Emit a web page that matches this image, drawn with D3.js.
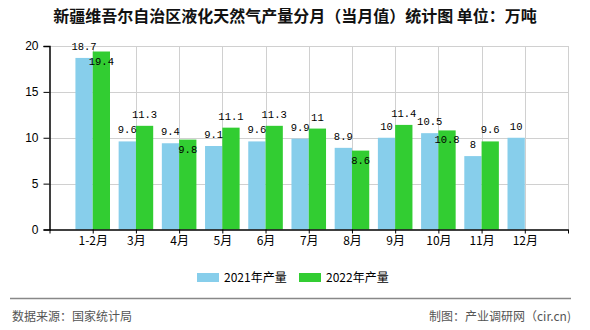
<!DOCTYPE html>
<html>
<head>
<meta charset="utf-8">
<script src="https://cdn.jsdelivr.net/npm/d3@7"></script>
<style>
  html, body { margin: 0; padding: 0; background: #fff; }
  svg { display: block; }
</style>
</head>
<body>
<svg id="chart" width="590" height="330"></svg>
<script>
// Monthly LNG output, Xinjiang (10k tonnes)
const months = ["1-2月", "3月", "4月", "5月", "6月", "7月", "8月", "9月", "10月", "11月", "12月"];
const output2021 = [18.7, 9.6, 9.4, 9.1, 9.6, 9.9, 8.9, 10, 10.5, 8, 10];
const output2022 = [19.4, 11.3, 9.8, 11.1, 11.3, 11, 8.6, 11.4, 10.8, 9.6, null];
const yTicks = [0, 5, 10, 15, 20];
const seriesNames = ["2021年产量", "2022年产量"];
const seriesColors = ["#87CEEB", "#32CD32"];

const svg = d3.select("#chart");
const cjk = "'Noto Sans CJK SC', 'Liberation Sans', sans-serif";
const mono = "'Liberation Mono', 'DejaVu Sans Mono', monospace";

const plotL = 49.5, plotR = 568, plotT = 46, plotB = 229.5;

// month i sits at slot i+1; slot 0 is the y axis, slot 12 the right edge
const x = d3.scaleLinear().domain([0, months.length + 1]).range([plotL, plotR]);
const y = d3.scaleLinear().domain([0, 20]).range([plotB, plotT]);
const step = x(1) - x(0);
const barW = step * 0.4;

// title
svg.append("text")
  .attr("x", 295).attr("y", 22)
  .attr("text-anchor", "middle")
  .attr("font-family", cjk).attr("font-size", 16).attr("font-weight", "bold")
  .attr("fill", "#111")
  .text("新疆维吾尔自治区液化天然气产量分月（当月值）统计图  单位：万吨");

// grid
const grid = svg.append("g").attr("stroke", "#d0d0d0").attr("stroke-width", 1);
yTicks.filter(v => v > 0).forEach(v => {
  grid.append("line").attr("x1", plotL).attr("x2", plotR)
    .attr("y1", Math.round(y(v)) + 0.5).attr("y2", Math.round(y(v)) + 0.5);
});
d3.range(1, months.length + 2).forEach(i => {
  grid.append("line").attr("y1", plotT).attr("y2", plotB)
    .attr("x1", Math.round(x(i)) + 0.5).attr("x2", Math.round(x(i)) + 0.5);
});

// bars
const slots = months.map((m, i) => ({ m, i, a: output2021[i], b: output2022[i] }));
const bars = svg.append("g");
bars.selectAll("rect.a").data(slots).join("rect")
  .attr("x", d => x(d.i + 1) - barW).attr("width", barW)
  .attr("y", d => y(d.a)).attr("height", d => y(0) - y(d.a))
  .attr("fill", seriesColors[0]);
bars.selectAll("rect.b").data(slots.filter(d => d.b != null)).join("rect")
  .attr("x", d => x(d.i + 1)).attr("width", barW)
  .attr("y", d => y(d.b)).attr("height", d => y(0) - y(d.b))
  .attr("fill", seriesColors[1]);

// axes
const yAxis = d3.axisLeft(y).tickValues(yTicks).tickSize(6).tickPadding(5);
const gy = svg.append("g").attr("transform", `translate(${plotL},0)`).call(yAxis);
gy.select(".domain").attr("stroke", "#000").attr("stroke-width", 1.5);
gy.selectAll(".tick line").attr("stroke", "#000");
gy.selectAll(".tick text").attr("font-family", "'Liberation Sans', sans-serif").attr("font-size", 12).attr("fill", "#000");

const xAxis = d3.axisBottom(x)
  .tickValues(d3.range(0, months.length + 2))
  .tickFormat(i => (i >= 1 && i <= months.length) ? months[i - 1] : "")
  .tickSize(4).tickSizeOuter(0).tickPadding(3);
const gx = svg.append("g").attr("transform", `translate(0,${plotB})`).call(xAxis);
gx.select(".domain").attr("stroke", "#000").attr("stroke-width", 1.5);
gx.selectAll(".tick line").attr("stroke", "#000");
gx.selectAll(".tick text").attr("font-family", cjk).attr("font-size", 12).attr("fill", "#000");

// value labels; a 2022 label that would collide with its neighbour goes inside the bar
const labels = svg.append("g").attr("font-family", mono).attr("font-size", 10.5)
  .attr("fill", "#000").attr("text-anchor", "middle");
slots.forEach(d => {
  labels.append("text").attr("x", x(d.i + 1) - barW / 2).attr("y", y(d.a) - 8).text(d.a);
  if (d.b != null) {
    const inside = Math.abs(d.b - d.a) < 1;
    labels.append("text").attr("x", x(d.i + 1) + barW / 2)
      .attr("y", inside ? y(d.b) + 13 : y(d.b) - 8).text(d.b);
  }
});

// legend
const legend = svg.append("g");
[[197, 224], [299, 326]].forEach(([sx, tx], k) => {
  legend.append("rect").attr("x", sx).attr("y", 273).attr("width", 22).attr("height", 9)
    .attr("fill", seriesColors[k]);
  legend.append("text").attr("x", tx).attr("y", 282)
    .attr("font-family", cjk).attr("font-size", 12).attr("fill", "#000").text(seriesNames[k]);
});

// footer
svg.append("line").attr("x1", 10).attr("x2", 571).attr("y1", 298.5).attr("y2", 298.5)
  .attr("stroke", "#888").attr("stroke-width", 1.5);
svg.append("text").attr("x", 12).attr("y", 321)
  .attr("font-family", cjk).attr("font-size", 12).attr("fill", "#555").text("数据来源：国家统计局");
svg.append("text").attr("x", 571).attr("y", 321).attr("text-anchor", "end")
  .attr("font-family", cjk).attr("font-size", 12).attr("fill", "#555").text("制图：产业调研网（cir.cn)");
</script>
</body>
</html>
